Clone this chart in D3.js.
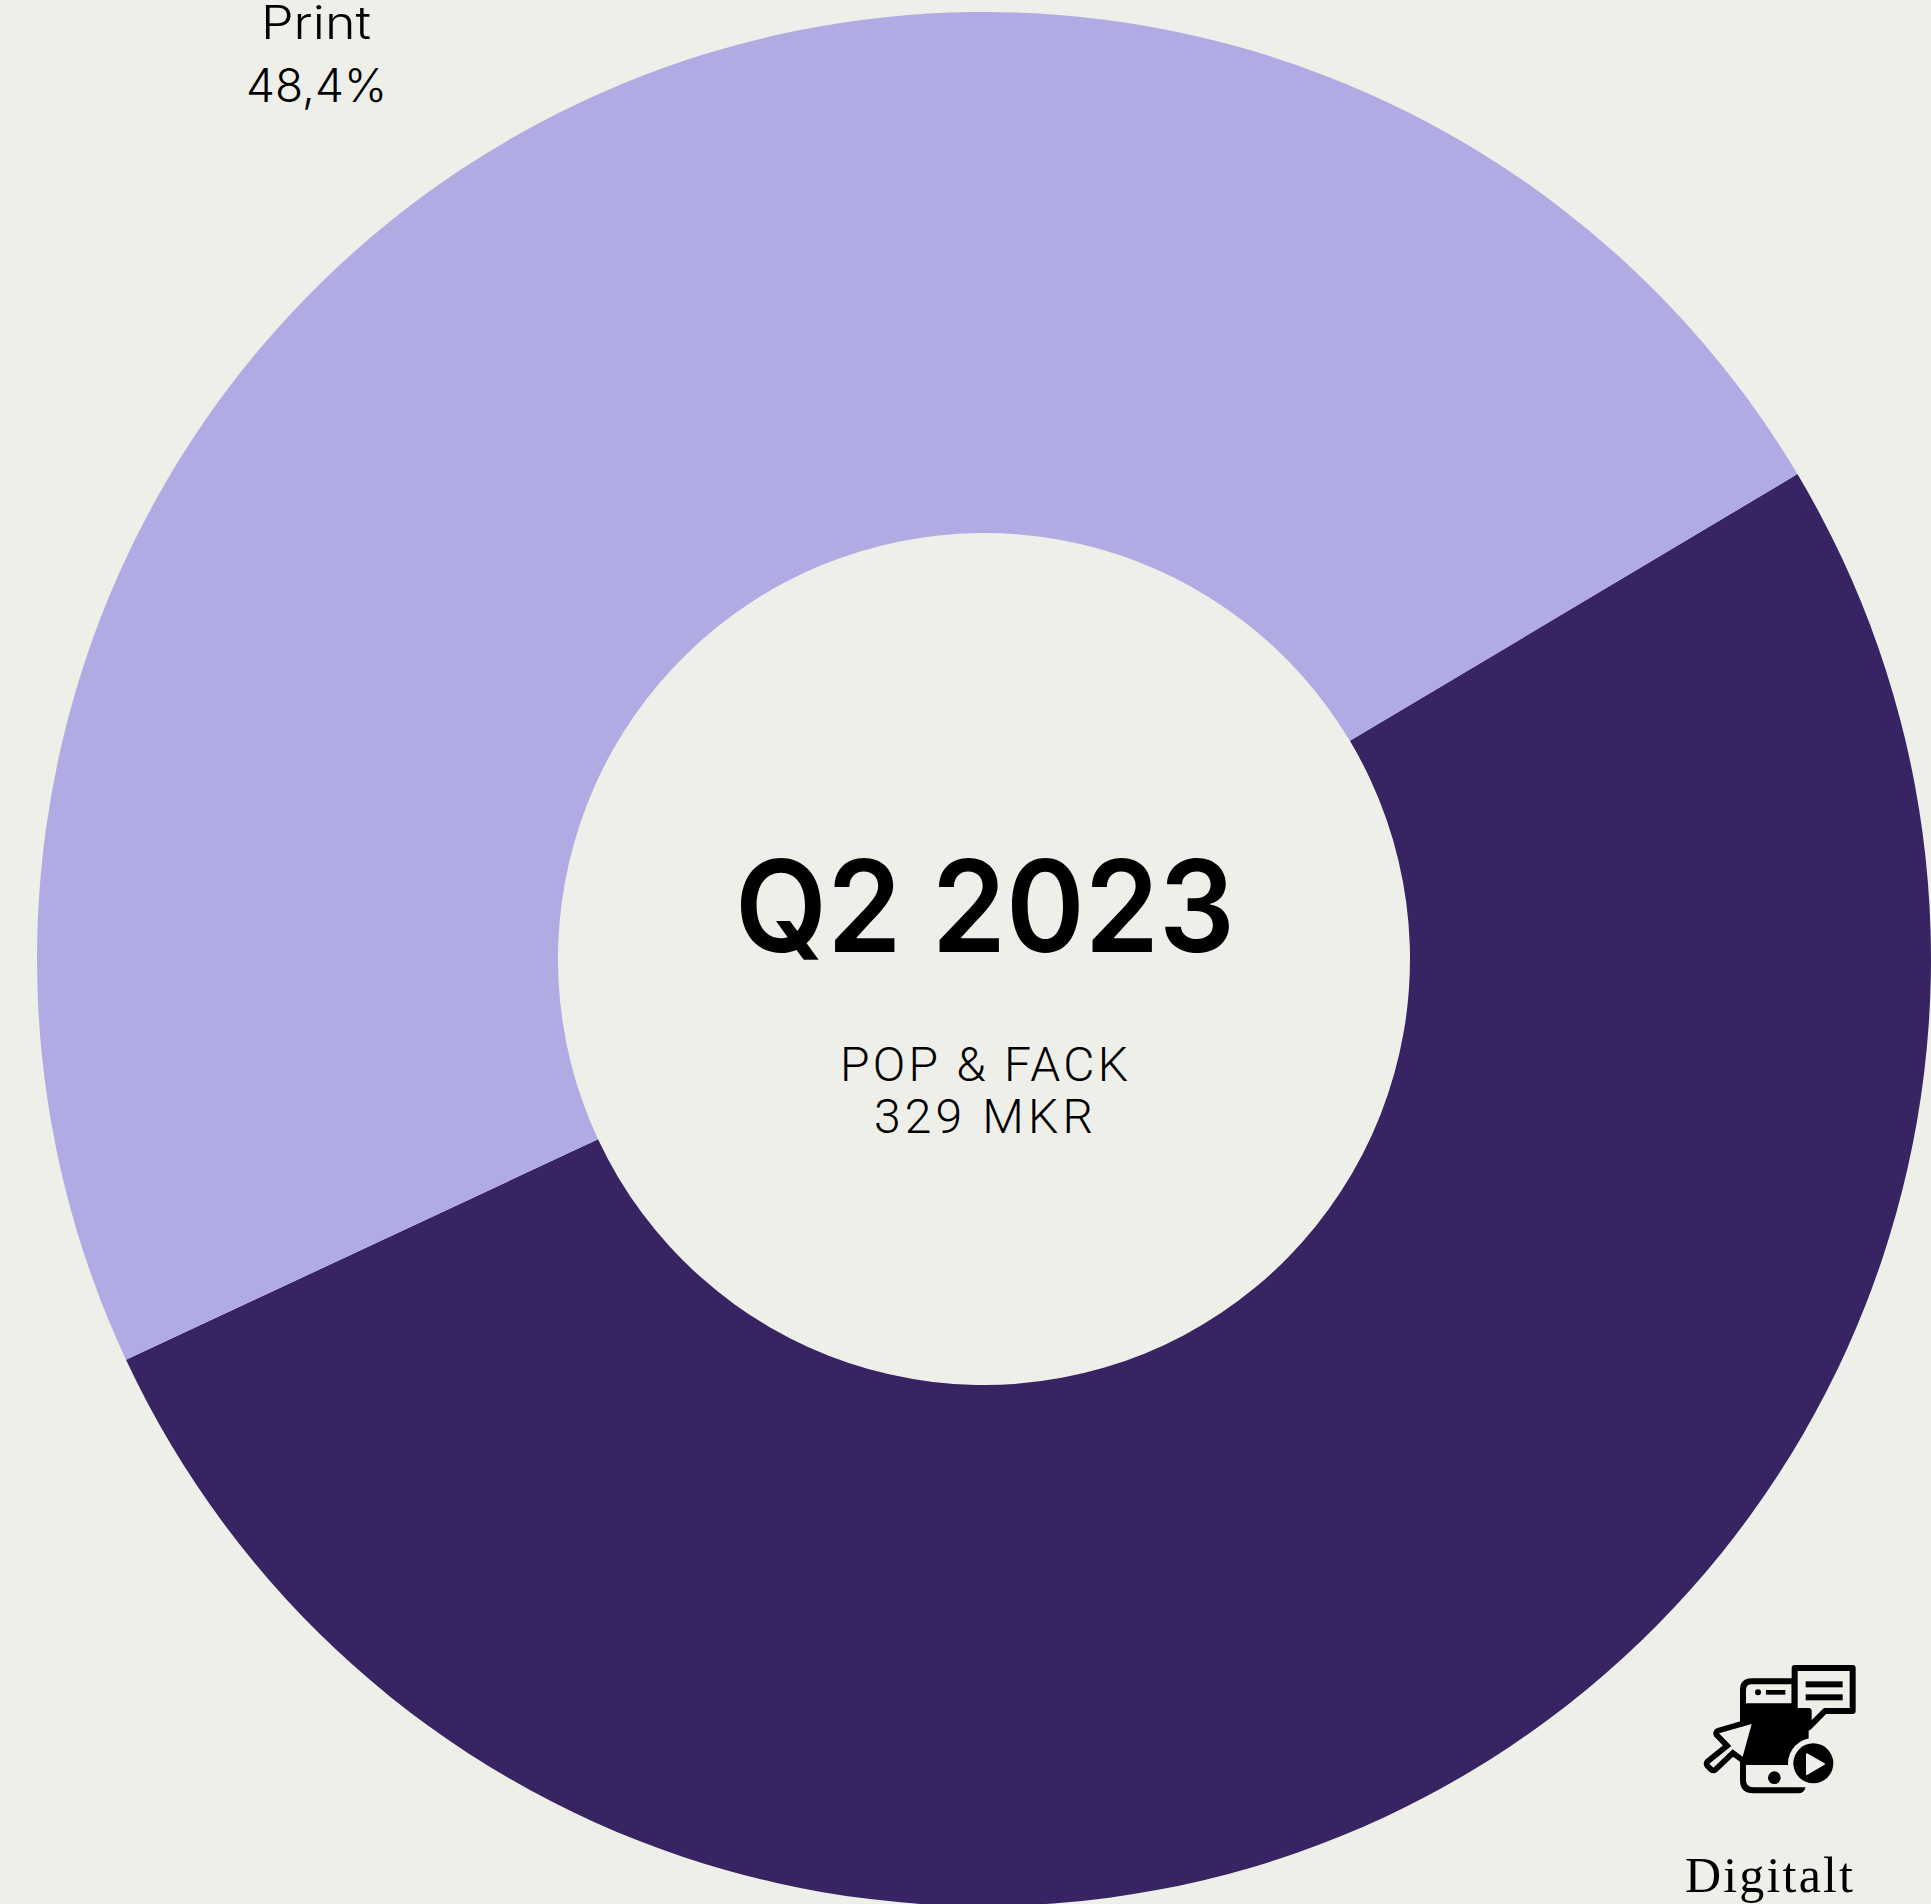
<!DOCTYPE html>
<html lang="sv">
<head>
<meta charset="utf-8">
<title>Pop & Fack Q2 2023</title>
<script src="https://cdn.jsdelivr.net/npm/d3@7"></script>
<style>
  html, body { margin: 0; padding: 0; background: #eeefe9; overflow: hidden; }
  svg { display: block; }
  text { fill: #000; text-anchor: start; }
  .light { font-family: "Inter", "Noto Sans", sans-serif; font-weight: 300; font-size: 46px; }
  .thin { font-family: "Roboto", sans-serif; font-weight: 300; font-size: 48px; }
  .slab { font-family: "Liberation Serif", serif; font-size: 50px; }
  .title { font-family: "Inter", "Roboto", sans-serif; font-weight: 600; font-size: 127px; }
</style>
</head>
<body>
<svg id="chart"></svg>
<script>
// Sales split for the quarter, in percent
const categories = ["Digitalt", "Print"];
const shares = [51.6, 48.4];
const sliceColours = ["#382463", "#b0abe3"];
const centreTitle = "Q2 2023";
const centreLines = ["POP & FACK", "329 MKR"];

const width = 1931, height = 1904;
const cx = 984, cy = 959, outerR = 947, innerR = 426;
const startAngle = 59.2 * Math.PI / 180;

const svg = d3.select("#chart").attr("width", width).attr("height", height);

const pie = d3.pie().sort(null).value(d => d)
  .startAngle(startAngle).endAngle(startAngle + 2 * Math.PI);
const arc = d3.arc().innerRadius(innerR).outerRadius(outerR);
const colour = d3.scaleOrdinal().domain(categories).range(sliceColours);

const ring = svg.append("g").attr("transform", `translate(${cx},${cy})`);
ring.selectAll("path")
  .data(pie(shares))
  .join("path")
  .attr("d", arc)
  .attr("fill", (d, i) => colour(categories[i]));

// Places a line of text from its left edge and fits it to a set width
function label(x, y, str, cls, w, adjust = "spacingAndGlyphs") {
  return svg.append("text").attr("class", cls).attr("x", x).attr("y", y).text(str)
    .attr("textLength", w).attr("lengthAdjust", adjust);
}

const pct = v => v.toFixed(1).replace(".", ",") + "%";

label(735, 952, centreTitle, "title", 500);
label(840, 1081, centreLines[0], "thin", 288, "spacing");
label(874, 1133, centreLines[1], "thin", 219, "spacing");

label(261, 39, categories[1], "light", 110);
label(246, 102, pct(shares[1]), "light", 141);

label(1685, 1892, categories[0], "slab", 168, "spacing");

// Digital media pictogram: phone, speech bubble, pointer and play button
const bg = "#eeefe9";
const icon = svg.append("g").attr("transform", "translate(1660,1640) scale(0.33333)");
icon.append("path").attr("fill", "#000")
  .attr("d", "M240 150 Q240 115 275 115 L400 115 L400 205 L435 205 Q446 205 446 216 L446 310 L400 375 L258 375 L258 420 Q258 442 280 442 L420 442 L437 442 Q432 460 415 460 L280 460 Q240 460 240 420 Z");
icon.append("path").attr("fill", bg)
  .attr("d", "M258 190 L258 150 Q258 133 275 133 L395 133 L395 190 Z");
icon.append("circle").attr("cx", 294).attr("cy", 157).attr("r", 9).attr("fill", "#000");
icon.append("rect").attr("x", 318).attr("y", 150).attr("width", 58).attr("height", 14).attr("fill", "#000");
icon.append("circle").attr("cx", 343).attr("cy", 413).attr("r", 19).attr("fill", "#000");

// Speech bubble with two text lines
icon.append("path").attr("fill", bg).attr("stroke", "#000").attr("stroke-width", 18).attr("stroke-linejoin", "round")
  .attr("d", "M404 84 L578 84 L578 213 L495 213 L446 262 L446 213 L404 213 Z");
icon.append("rect").attr("x", 437).attr("y", 124).attr("width", 111).attr("height", 18).attr("fill", "#000");
icon.append("rect").attr("x", 437).attr("y", 163).attr("width", 111).attr("height", 18).attr("fill", "#000");

// Pointer arrow, its outline painted behind the fill
icon.append("path").attr("fill", bg).attr("stroke", "#000").attr("stroke-width", 34).attr("stroke-linejoin", "round")
  .attr("paint-order", "stroke")
  .attr("d", "M275 252 L177 280 L214 318 L148 371 L160 383 L218 328 L248 350 Z");

// Play button, with a halo cut out of the phone
icon.append("circle").attr("cx", 460).attr("cy", 370).attr("r", 76).attr("fill", bg);
icon.append("circle").attr("cx", 460).attr("cy", 370).attr("r", 60).attr("fill", "#000");
icon.append("path").attr("fill", bg).attr("stroke", bg).attr("stroke-width", 6).attr("stroke-linejoin", "round")
  .attr("d", "M441 343 L492 372 L441 402 Z");
</script>
</body>
</html>
